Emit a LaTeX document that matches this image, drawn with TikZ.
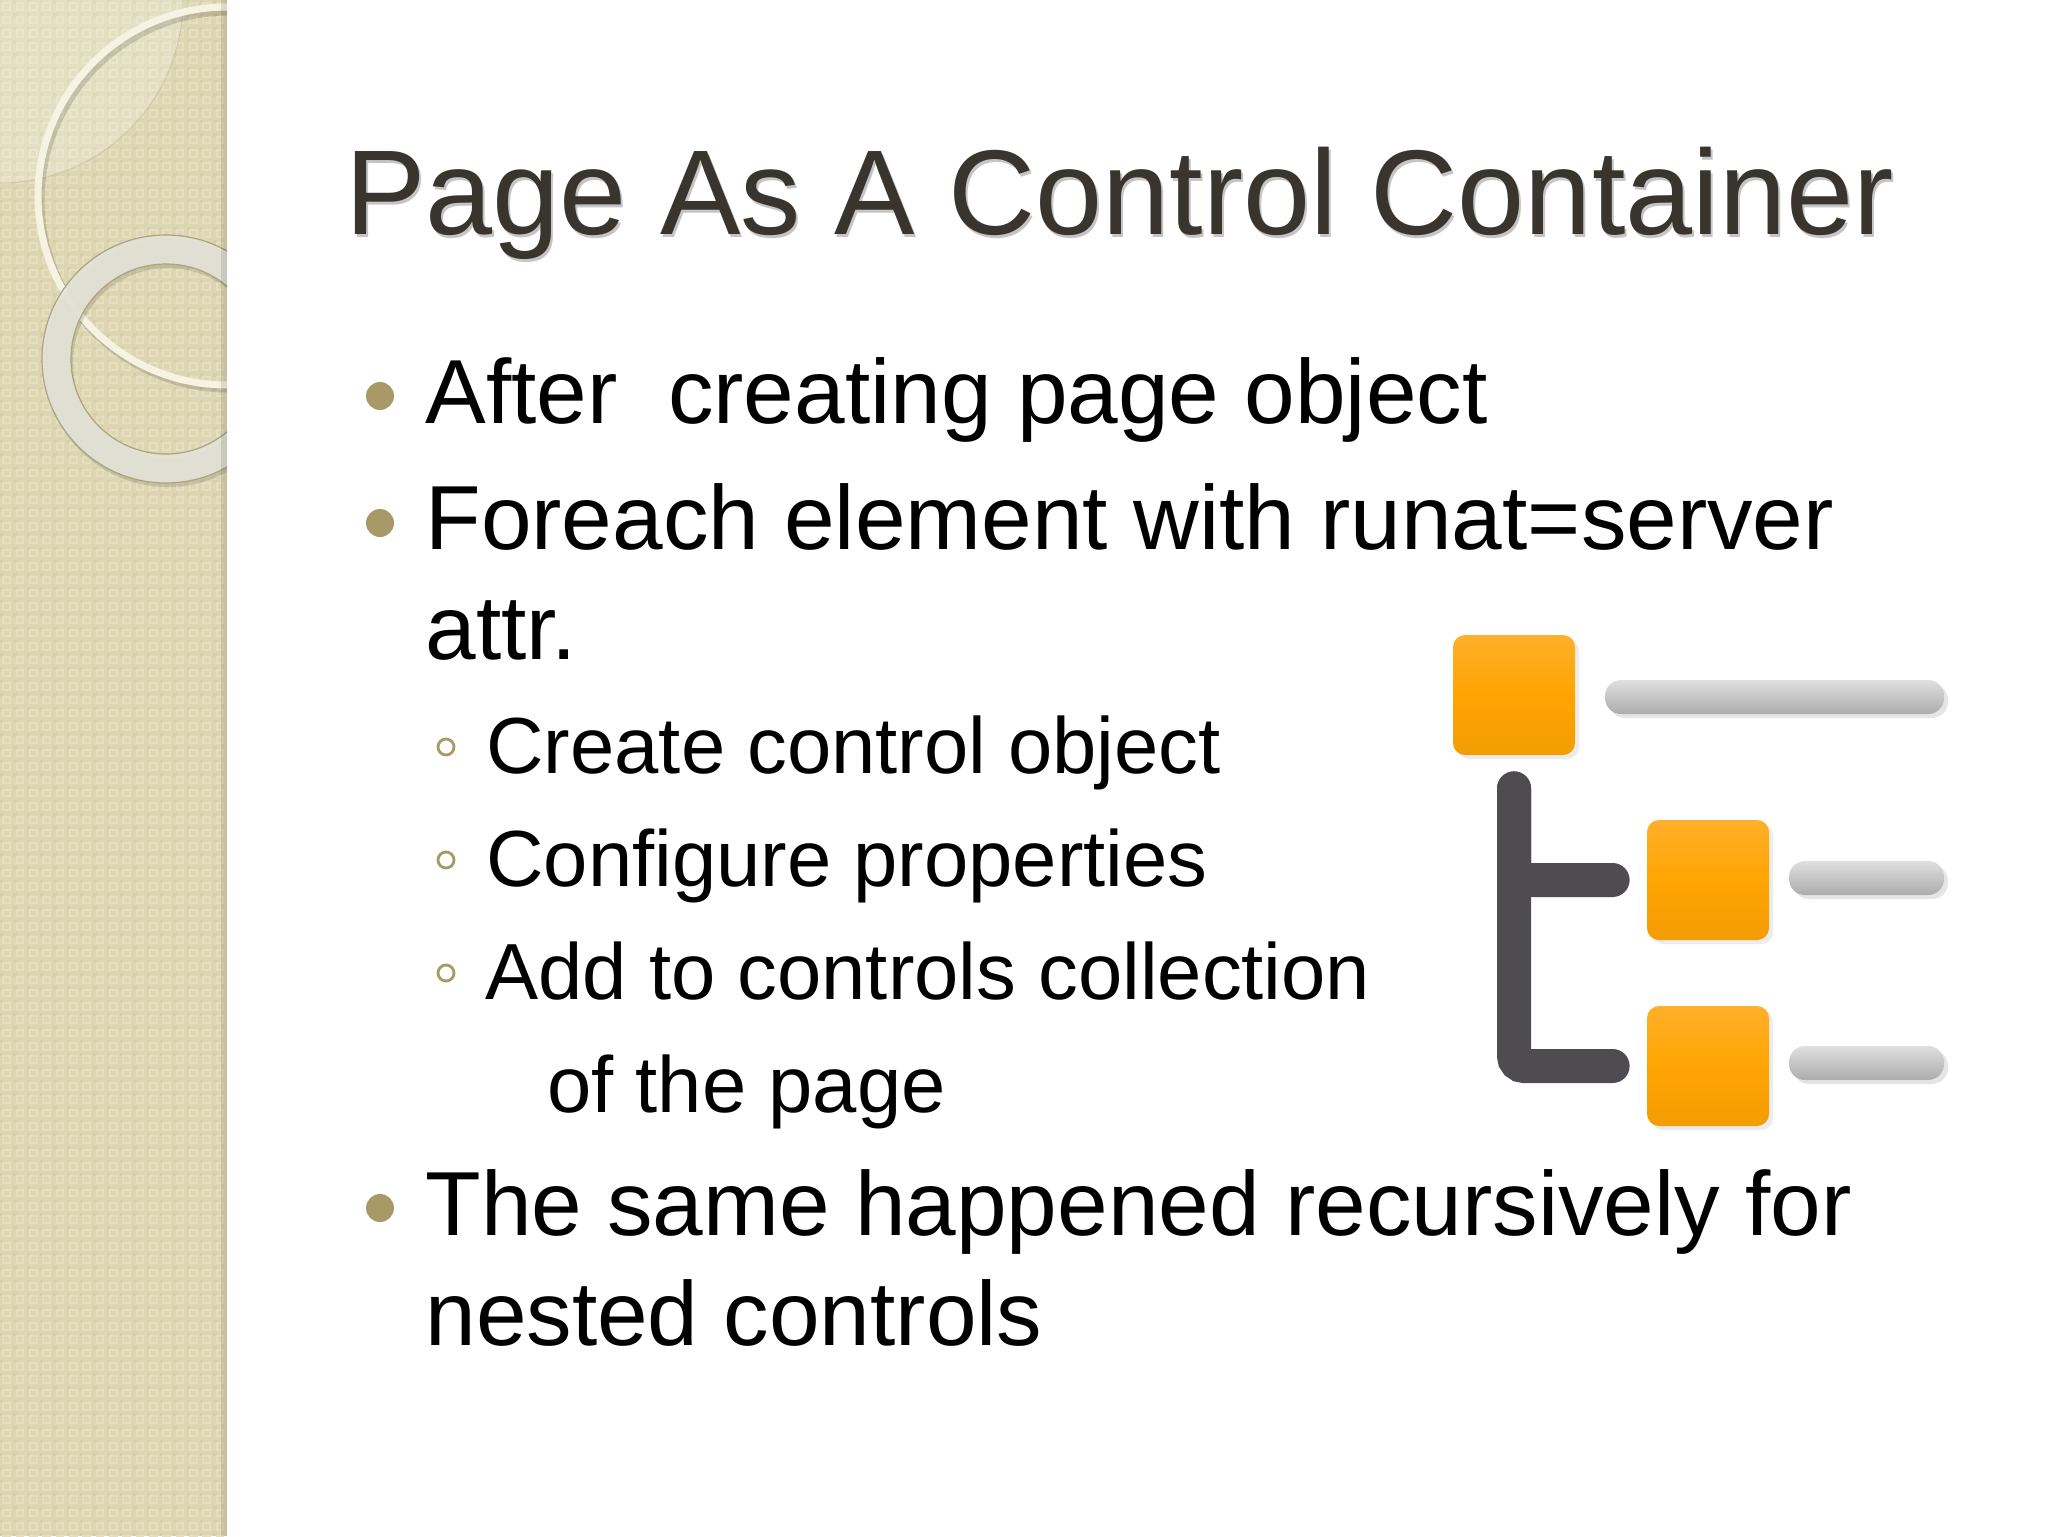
\documentclass[tikz,border=0pt]{standalone}
\usepackage{fontspec}
\setmainfont{Liberation Sans}
\usetikzlibrary{shadows}

\definecolor{panelbg}{HTML}{DDD6B2}
\definecolor{panellight}{HTML}{E5DFC0}
\definecolor{paneldark}{HTML}{D6CEA8}
\definecolor{ringcream}{HTML}{F6F3E2}
\definecolor{ringgray}{HTML}{E4E3D8}
\definecolor{ringedge}{HTML}{ABA47E}
\definecolor{titlecol}{HTML}{3A342E}
\definecolor{bulletcol}{HTML}{A89A66}
\definecolor{treecol}{HTML}{4E4C50}
\definecolor{orangetop}{HTML}{FFB02A}
\definecolor{orangemid}{HTML}{FFA402}
\definecolor{orangelow}{HTML}{F39C05}

\tikzset{
  titletext/.style={anchor=base west,inner sep=0pt,font=\fontsize{60.3}{66}\selectfont},
  bodytext/.style={anchor=base west,inner sep=0pt,font=\fontsize{45.5}{50}\selectfont},
  subtext/.style={anchor=base west,inner sep=0pt,font=\fontsize{39.8}{46}\selectfont},
  orangebox/.style={rounded corners=6pt,minimum width=61pt,minimum height=60pt,inner sep=0pt,
    top color=orangetop,bottom color=orangelow,middle color=orangemid,
    drop shadow={opacity=.15,shadow xshift=2pt,shadow yshift=-2pt}},
  graybar/.style={rounded corners=8pt,minimum height=17pt,inner sep=0pt,
    top color=gray!25,bottom color=gray!65,
    drop shadow={opacity=.2,shadow xshift=2pt,shadow yshift=-2pt}},
  treeline/.style={treecol,line width=17pt,line cap=round,rounded corners=5pt,
    shorten <=16.5pt,shorten >=17pt},
}

\begin{document}
\begin{tikzpicture}[x=0.5pt,y=-0.5pt]
    \useasboundingbox (0,0) rectangle (2048,1536);
    \fill[white] (0,0) rectangle (2048,1536);

    % 左の帯
    \fill[panelbg] (0,0) rectangle (227,1536);
    \foreach \i in {0,...,16} {
      \foreach \j in {0,...,115} {
        \fill[paneldark] ({\i*13.33},{\j*13.33}) rectangle ++(3.4,3.4);
        \draw[panellight,line width=1pt] ({\i*13.33+3.4},{\j*13.33+3.4}) rectangle ++(6.5,6.5);
      }
    }

    % 帯の中の飾り (右端ではみ出さないようにクリップ)
    \begin{scope}
      \clip (0,0) rectangle (227,1536);
      \coordinate (corner) at (0,0);
      \coordinate (bigC) at (227,196);
      \coordinate (smallC) at (166,359);

      \fill[white,opacity=.22] (corner) -- (183,0) arc[start angle=0,end angle=90,radius=183] -- cycle;
      \draw[ringedge,opacity=.35,line width=.5pt] (183,0) arc[start angle=0,end angle=90,radius=183];

      \draw[black,opacity=.14,line width=4pt] (229,200) circle (188.5);
      \draw[ringcream,line width=3.5pt] (bigC) circle (189);

      \fill[black,opacity=.12,even odd rule] (168,363) circle (124) (168,363) circle (95);
      \fill[ringgray,opacity=.9,even odd rule] (smallC) circle (124) (smallC) circle (95);
      \draw[ringedge,line width=.6pt] (smallC) circle (124) (smallC) circle (95);
    \end{scope}
    \fill[black,opacity=.1] (221,0) rectangle (227,1536);

    % タイトル (影を先に置く)
    \node[titletext,gray,opacity=.45] (titleshadow) at (347,237) {Page As A Control Container};
    \node[titletext,titlecol] (title) at (345,234) {Page As A Control Container};

    % 本文
    \node[bodytext] (after) at (425,423) {After\ \ creating page object};
    \node[bodytext] (foreach) at (425,549) {Foreach element with runat=server};
    \node[bodytext] (attr) at (425,659) {attr.};
    \node[subtext] (create) at (486,773) {Create control object};
    \node[subtext] (configure) at (486,886) {Configure properties};
    \node[subtext] (addto) at (485,999) {Add to controls collection};
    \node[subtext] (ofpage) at (547,1112) {of the page};
    \node[bodytext] (same) at (425,1235) {The same happened recursively for};
    \node[bodytext] (nested) at (425,1345) {nested controls};

    % 箇条書きの点
    \foreach \y in {396,523,1208}
      \fill[bulletcol] (380,\y) circle (14);
    \foreach \y in {747,860,973}
      \draw[bulletcol,line width=1.4pt] (446,\y) circle (8);

    % 右のアイコン
    \node[orangebox] (root) at (1514,695) {};
    \node[orangebox] (childA) at (1708,880) {};
    \node[orangebox] (childB) at (1708,1066) {};
    \node[graybar,minimum width=169.5pt] (rootbar) at (1774.5,697) {};
    \node[graybar,minimum width=77.5pt] (barA) at (1866.5,878) {};
    \node[graybar,minimum width=77.5pt] (barB) at (1866.5,1063) {};

    % 木の枝 (根から子へ)
    \draw[treeline] (root.south) |- (childA.west);
    \draw[treeline] (root.south) |- (childB.west);
\end{tikzpicture}
\end{document}
